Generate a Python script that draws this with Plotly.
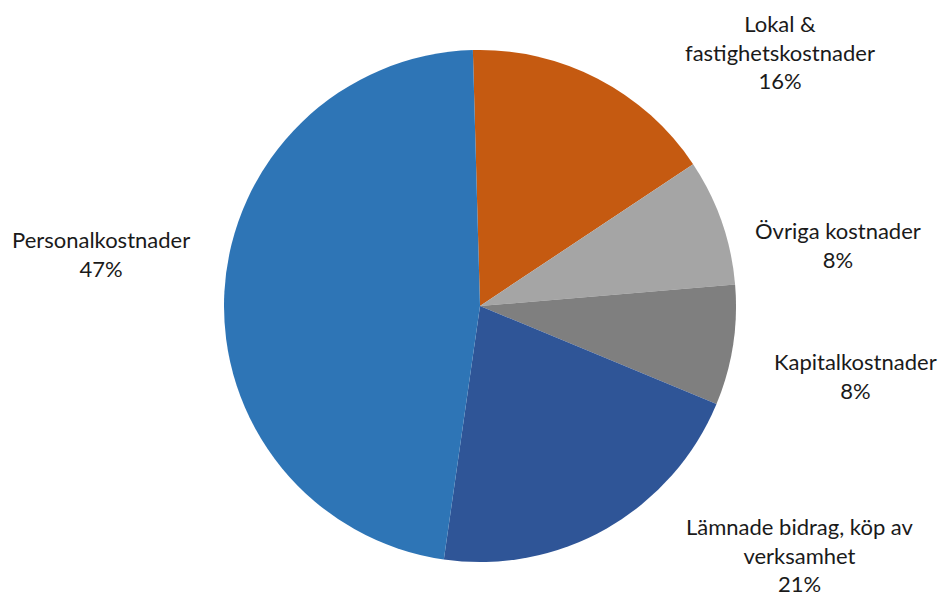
import plotly.graph_objects as go

categories = ["Lokal & fastighetskostnader", "Övriga kostnader", "Kapitalkostnader",
              "Lämnade bidrag, köp av verksamhet", "Personalkostnader"]
label_lines = ["Lokal &<br>fastighetskostnader", "Övriga kostnader", "Kapitalkostnader",
               "Lämnade bidrag, köp av<br>verksamhet", "Personalkostnader"]
values = [16.1, 8.0, 7.6, 21.0, 47.3]
colors = ["#C55A11", "#A5A5A5", "#7F7F7F", "#2F5597", "#2E75B6"]

# label block centres in pixels (layout only)
label_px = [(780, 52), (838, 245), (855, 376), (800, 555), (101, 254)]

W, H = 940, 596
cx, cy, r = 480, 306, 256

fig = go.Figure(go.Pie(
    labels=categories, values=values, sort=False, direction="clockwise",
    rotation=-1.6, marker=dict(colors=colors, line=dict(width=0)),
    textinfo="none", hoverinfo="label+percent", showlegend=False,
    domain=dict(x=[(cx - r) / W, (cx + r) / W], y=[(H - cy - r) / H, (H - cy + r) / H]),
))

total = sum(values)
for lab, v, (px, py) in zip(label_lines, values, label_px):
    fig.add_annotation(
        text=f"{lab}<br>{round(100 * v / total)}%",
        x=px / W, y=1 - py / H, xref="paper", yref="paper",
        xanchor="center", yanchor="middle", showarrow=False, align="center",
        font=dict(family="Lato", size=22, color="#1a1a1a"),
    )

fig.update_layout(
    width=W, height=H, margin=dict(l=0, r=0, t=0, b=0),
    paper_bgcolor="white", plot_bgcolor="white",
)
fig.write_html("out.html", config={"displayModeBar": False},
               post_script="document.body.style.margin='0';document.body.style.overflow='hidden';")
